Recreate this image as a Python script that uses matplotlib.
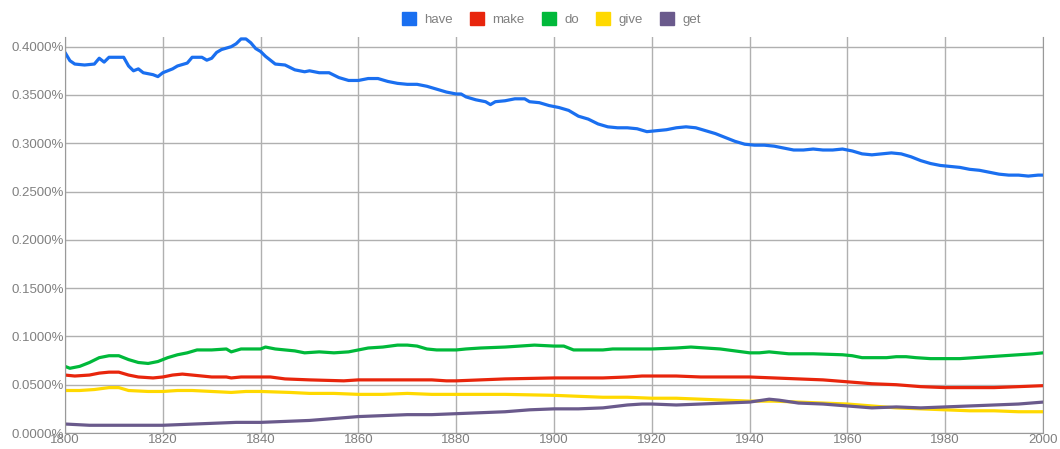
import matplotlib.pyplot as plt
from matplotlib.patches import Patch

plt.rcParams['font.family'] = ['Liberation Sans', 'DejaVu Sans']

# data (percent)
have_years = [1800, 1801, 1802, 1804, 1806, 1807, 1808, 1809, 1812, 1813, 1814, 1815, 1816,
              1818, 1819, 1820, 1822, 1823, 1825, 1826, 1828, 1829, 1830, 1831, 1832, 1834,
              1835, 1836, 1837, 1838, 1839, 1840, 1841, 1843, 1845, 1847, 1849, 1850, 1852,
              1854, 1856, 1858, 1860, 1862, 1864, 1866, 1868, 1870, 1872, 1874, 1876, 1878,
              1880, 1881, 1882, 1884, 1886, 1887, 1888, 1890, 1892, 1894, 1895, 1897, 1899,
              1901, 1903, 1905, 1907, 1909, 1911, 1913, 1915, 1917, 1919, 1921, 1923, 1925,
              1927, 1929, 1931, 1933, 1935, 1937, 1939, 1941, 1943, 1945, 1947, 1949, 1951,
              1953, 1955, 1957, 1959, 1961, 1963, 1965, 1967, 1969, 1971, 1973, 1975, 1977,
              1979, 1981, 1983, 1985, 1987, 1989, 1991, 1993, 1995, 1997, 1999, 2000]
have = [0.394, 0.3855, 0.382, 0.381, 0.382, 0.388, 0.384, 0.389, 0.389, 0.380, 0.375, 0.377, 0.373,
        0.371, 0.369, 0.373, 0.377, 0.380, 0.383, 0.389, 0.389, 0.386, 0.388, 0.394, 0.397, 0.400,
        0.403, 0.408, 0.408, 0.404, 0.398, 0.395, 0.390, 0.382, 0.381, 0.376, 0.374, 0.375, 0.373,
        0.373, 0.368, 0.365, 0.365, 0.367, 0.367, 0.364, 0.362, 0.361, 0.361, 0.359, 0.356, 0.353,
        0.351, 0.351, 0.348, 0.345, 0.343, 0.340, 0.343, 0.344, 0.346, 0.346, 0.343, 0.342, 0.339,
        0.337, 0.334, 0.328, 0.325, 0.320, 0.317, 0.316, 0.316, 0.315, 0.312, 0.313, 0.314, 0.316,
        0.317, 0.316, 0.313, 0.310, 0.306, 0.302, 0.299, 0.298, 0.298, 0.297, 0.295, 0.293, 0.293,
        0.294, 0.293, 0.293, 0.294, 0.292, 0.289, 0.288, 0.289, 0.290, 0.289, 0.286, 0.282, 0.279,
        0.277, 0.276, 0.275, 0.273, 0.272, 0.270, 0.268, 0.267, 0.267, 0.266, 0.267, 0.267]

do_years = [1800, 1801, 1803, 1805, 1807, 1809, 1811, 1813, 1815, 1817, 1819, 1821, 1823, 1825,
            1827, 1830, 1833, 1834, 1836, 1840, 1841, 1843, 1845, 1847, 1849, 1852, 1855, 1858,
            1860, 1862, 1865, 1868, 1870, 1872, 1874, 1876, 1880, 1882, 1885, 1890, 1893, 1896,
            1900, 1902, 1904, 1910, 1912, 1920, 1925, 1928, 1931, 1934, 1937, 1940, 1942, 1944,
            1946, 1948, 1953, 1959, 1961, 1963, 1968, 1970, 1972, 1974, 1977, 1983, 1986, 1989,
            1992, 1995, 1998, 2000]
do = [0.069, 0.067, 0.069, 0.073, 0.078, 0.080, 0.080, 0.076, 0.073, 0.072, 0.074, 0.078, 0.081, 0.083,
      0.086, 0.086, 0.087, 0.084, 0.087, 0.087, 0.089, 0.087, 0.086, 0.085, 0.083, 0.084, 0.083, 0.084,
      0.086, 0.088, 0.089, 0.091, 0.091, 0.090, 0.087, 0.086, 0.086, 0.087, 0.088, 0.089, 0.090, 0.091,
      0.090, 0.090, 0.086, 0.086, 0.087, 0.087, 0.088, 0.089, 0.088, 0.087, 0.085, 0.083, 0.083, 0.084,
      0.083, 0.082, 0.082, 0.081, 0.080, 0.078, 0.078, 0.079, 0.079, 0.078, 0.077, 0.077, 0.078, 0.079,
      0.080, 0.081, 0.082, 0.083]

make_years = [1800, 1802, 1805, 1807, 1809, 1811, 1813, 1815, 1818, 1820, 1822, 1824, 1826, 1828,
              1830, 1833, 1834, 1836, 1842, 1845, 1850, 1857, 1860, 1875, 1878, 1880, 1885, 1890,
              1900, 1910, 1915, 1918, 1925, 1930, 1940, 1945, 1950, 1955, 1960, 1965, 1970, 1975,
              1980, 1990, 1995, 2000]
make = [0.060, 0.059, 0.060, 0.062, 0.063, 0.063, 0.060, 0.058, 0.057, 0.058, 0.060, 0.061, 0.060, 0.059,
        0.058, 0.058, 0.057, 0.058, 0.058, 0.056, 0.055, 0.054, 0.055, 0.055, 0.054, 0.054, 0.055, 0.056,
        0.057, 0.057, 0.058, 0.059, 0.059, 0.058, 0.058, 0.057, 0.056, 0.055, 0.053, 0.051, 0.050, 0.048,
        0.047, 0.047, 0.048, 0.049]

give_years = [1800, 1803, 1806, 1809, 1811, 1813, 1817, 1820, 1823, 1826, 1830, 1834, 1837, 1840,
              1846, 1850, 1855, 1860, 1865, 1870, 1875, 1890, 1900, 1905, 1910, 1915, 1920, 1925,
              1930, 1935, 1940, 1945, 1950, 1955, 1960, 1965, 1970, 1975, 1980, 1985, 1990, 1995, 2000]
give = [0.044, 0.044, 0.045, 0.047, 0.047, 0.044, 0.043, 0.043, 0.044, 0.044, 0.043, 0.042, 0.043, 0.043,
        0.042, 0.041, 0.041, 0.040, 0.040, 0.041, 0.040, 0.040, 0.039, 0.038, 0.037, 0.037, 0.036, 0.036,
        0.035, 0.034, 0.033, 0.033, 0.032, 0.031, 0.030, 0.028, 0.026, 0.025, 0.024, 0.023, 0.023, 0.022, 0.022]

get_years = [1800, 1805, 1820, 1825, 1830, 1835, 1840, 1845, 1850, 1855, 1860, 1865, 1870, 1875,
             1880, 1885, 1890, 1895, 1900, 1905, 1910, 1915, 1918, 1920, 1925, 1930, 1935, 1940,
             1944, 1946, 1950, 1955, 1960, 1965, 1970, 1975, 1980, 1985, 1990, 1995, 2000]
get = [0.0093, 0.008, 0.008, 0.009, 0.010, 0.011, 0.011, 0.012, 0.013, 0.015, 0.017, 0.018, 0.019, 0.019,
       0.020, 0.021, 0.022, 0.024, 0.025, 0.025, 0.026, 0.029, 0.030, 0.030, 0.029, 0.030, 0.031, 0.032,
       0.035, 0.034, 0.031, 0.030, 0.028, 0.026, 0.027, 0.026, 0.027, 0.028, 0.029, 0.030, 0.032]

series = [("have", have_years, have, "#1a6ff0"),
          ("make", make_years, make, "#e8250c"),
          ("do", do_years, do, "#00b93a"),
          ("give", give_years, give, "#ffd900"),
          ("get", get_years, get, "#6a5a8c")]

grid_c = "#b0b0b0"
text_c = "#808080"

fig = plt.figure(figsize=(10.6, 4.49), dpi=100)
ax = fig.add_axes([65 / 1060, 1 - 433 / 449, (1043 - 65) / 1060, (433 - 37) / 449])

for name, xs, ys, c in series:
    ax.plot(xs, ys, color=c, lw=2.3, solid_capstyle="round", solid_joinstyle="round")

ax.set_xlim(1800, 2000)
ax.set_ylim(0, 0.41)
ax.set_xticks(range(1800, 2001, 20))
ax.set_yticks([i * 0.05 for i in range(9)])
ax.set_yticklabels([f"{i * 0.05:.4f}%" for i in range(9)])
ax.tick_params(length=0, colors=text_c, labelsize=9.5)
ax.tick_params(axis="x", pad=1)
ax.tick_params(axis="y", pad=1)
ax.grid(True, color=grid_c, lw=1)
ax.set_axisbelow(True)
ax.spines["top"].set_visible(False)
for s in ["left", "bottom", "right"]:
    ax.spines[s].set_color("#999999")

handles = [Patch(facecolor=c, edgecolor=c, label=n) for n, _, _, c in series]
fig.legend(handles=handles, loc="upper center", bbox_to_anchor=(0.52, 1.0), ncol=5, frameon=False,
           fontsize=9.5, labelcolor=text_c, handlelength=1.1, handleheight=1.1, handletextpad=0.6,
           columnspacing=1.3)

fig.savefig("out.png", dpi=100)
